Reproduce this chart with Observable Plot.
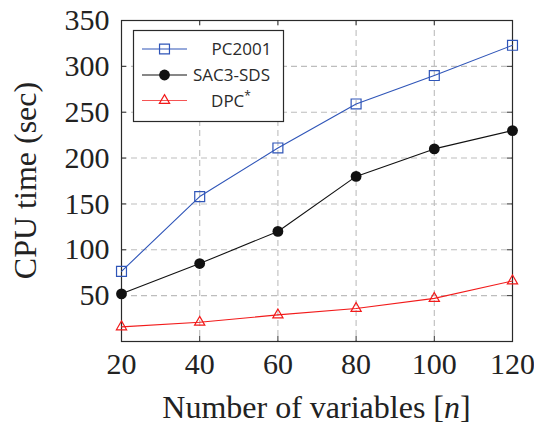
<!DOCTYPE html>
<html>
<head>
<meta charset="utf-8">
<script src="https://cdn.jsdelivr.net/npm/d3@7"></script>
<script src="https://cdn.jsdelivr.net/npm/@observablehq/plot@0.6"></script>
</head>
<body style="margin:0">
<div id="chart"></div>
<script>
const nVars = [20, 40, 60, 80, 100, 120];
const pc2001 = [76.5, 158, 211, 259, 290, 323];
const sac3sds = [52, 85, 120, 180, 210, 230];
const dpcStar = [16, 21, 29, 36, 47, 66];
const yTicks = [50, 100, 150, 200, 250, 300, 350];
const seriesNames = ["PC2001", "SAC3-SDS", "DPC"];
const seriesColors = ["#2f55b8", "#111111", "#f21b1b"];

const W = 534, H = 427;
const mL = 121, mR = 22, mT = 20, mB = 86;
const frameW = W - mL - mR, frameH = H - mT - mB;

const toRows = (vals, name) => nVars.map((n, i) => ({n, t: vals[i], s: name}));
const pcRows = toRows(pc2001, seriesNames[0]);
const sacRows = toRows(sac3sds, seriesNames[1]);
const dpcRows = toRows(dpcStar, seriesNames[2]);

const gridStyle = {stroke: "#bdbdbd", strokeOpacity: 1, strokeWidth: 1.1, strokeDasharray: "6,4"};
const tickLen = 5;

const svg = Plot.plot({
  width: W, height: H,
  marginLeft: mL, marginRight: mR, marginTop: mT, marginBottom: mB,
  style: {fontFamily: "Liberation Serif", fontSize: "30px"},
  x: {domain: [20, 120]},
  y: {domain: [0, 350]},
  marks: [
    Plot.gridX(nVars.slice(1, -1), gridStyle),
    Plot.gridY(yTicks.slice(0, -1), gridStyle),
    Plot.ruleX(nVars, {stroke: "#333", insetTop: frameH - tickLen}),
    Plot.ruleX(nVars, {stroke: "#333", insetBottom: frameH - tickLen}),
    Plot.ruleY(yTicks, {stroke: "#333", insetRight: frameW - tickLen}),
    Plot.ruleY(yTicks, {stroke: "#333", insetLeft: frameW - tickLen}),
    Plot.axisX(nVars, {tickSize: 0, tickPadding: 11, label: null, fontSize: 30, fontFamily: "Liberation Serif", fill: "#222"}),
    Plot.axisY(yTicks, {tickSize: 0, tickPadding: 12, label: null, fontSize: 30, fontFamily: "Liberation Serif", fill: "#222"}),
    Plot.frame({stroke: "#2a2a2a", strokeWidth: 1.2}),
    Plot.line(pcRows, {x: "n", y: "t", stroke: seriesColors[0], strokeWidth: 1.1}),
    Plot.line(sacRows, {x: "n", y: "t", stroke: seriesColors[1], strokeWidth: 1.1}),
    Plot.line(dpcRows, {x: "n", y: "t", stroke: seriesColors[2], strokeWidth: 1.1}),
    Plot.dot(pcRows, {x: "n", y: "t", symbol: "square", r: 5.6, stroke: seriesColors[0], fill: "none", strokeWidth: 1.2}),
    Plot.dot(sacRows, {x: "n", y: "t", symbol: "circle", r: 5.4, fill: seriesColors[1], stroke: "none"}),
    Plot.dot(dpcRows, {x: "n", y: "t", symbol: "triangle", r: 3.8, stroke: seriesColors[2], fill: "none", strokeWidth: 1.2})
  ]
});

const root = d3.select(svg);

// Axis titles
root.append("text")
  .attr("transform", `translate(${mL - 85},${mT + frameH / 2}) rotate(-90)`)
  .attr("text-anchor", "middle")
  .attr("font-family", "Liberation Serif")
  .attr("font-size", 32)
  .attr("fill", "#222")
  .text("CPU time (sec)");

const xl = root.append("text")
  .attr("x", mL + frameW / 2)
  .attr("y", 418)
  .attr("text-anchor", "middle")
  .attr("font-family", "Liberation Serif")
  .attr("font-size", 32)
  .attr("fill", "#222");
xl.append("tspan").text("Number of variables [");
xl.append("tspan").attr("font-style", "italic").text("n");
xl.append("tspan").text("]");

// Legend
const lg = root.append("g");
lg.append("rect").attr("x", 133.5).attr("y", 30.5).attr("width", 150).attr("height", 91)
  .attr("fill", "#fff").attr("stroke", "#2a2a2a").attr("stroke-width", 1.2);
const rowY = [49, 75, 100.5];
const textX = [241.5, 231.5, 231];
const symbols = [d3.symbolSquare, d3.symbolCircle, d3.symbolTriangle];
const symSize = [Math.PI * 5.6 * 5.6, Math.PI * 5.4 * 5.4, Math.PI * 3.8 * 3.8];
seriesNames.forEach((name, i) => {
  lg.append("line").attr("x1", 142).attr("x2", 187).attr("y1", rowY[i]).attr("y2", rowY[i])
    .attr("stroke", seriesColors[i]).attr("stroke-width", 1.1).attr("stroke-opacity", i === 2 ? 0.75 : 1);
  lg.append("path").attr("d", d3.symbol(symbols[i], symSize[i])())
    .attr("transform", `translate(164.5,${rowY[i]})`)
    .attr("fill", i === 1 ? seriesColors[1] : "none")
    .attr("stroke", i === 1 ? "none" : seriesColors[i]).attr("stroke-width", 1.2);
  const t = lg.append("text").attr("x", textX[i]).attr("y", rowY[i] + 6)
    .attr("text-anchor", "middle")
    .attr("font-family", "Open Sans").attr("font-size", 17).attr("fill", "#2a2a2a")
    .text(name);
  if (i === 2) t.append("tspan").attr("dy", -7).attr("font-size", 12).text("*");
});

document.getElementById("chart").appendChild(svg);
</script>
</body>
</html>
